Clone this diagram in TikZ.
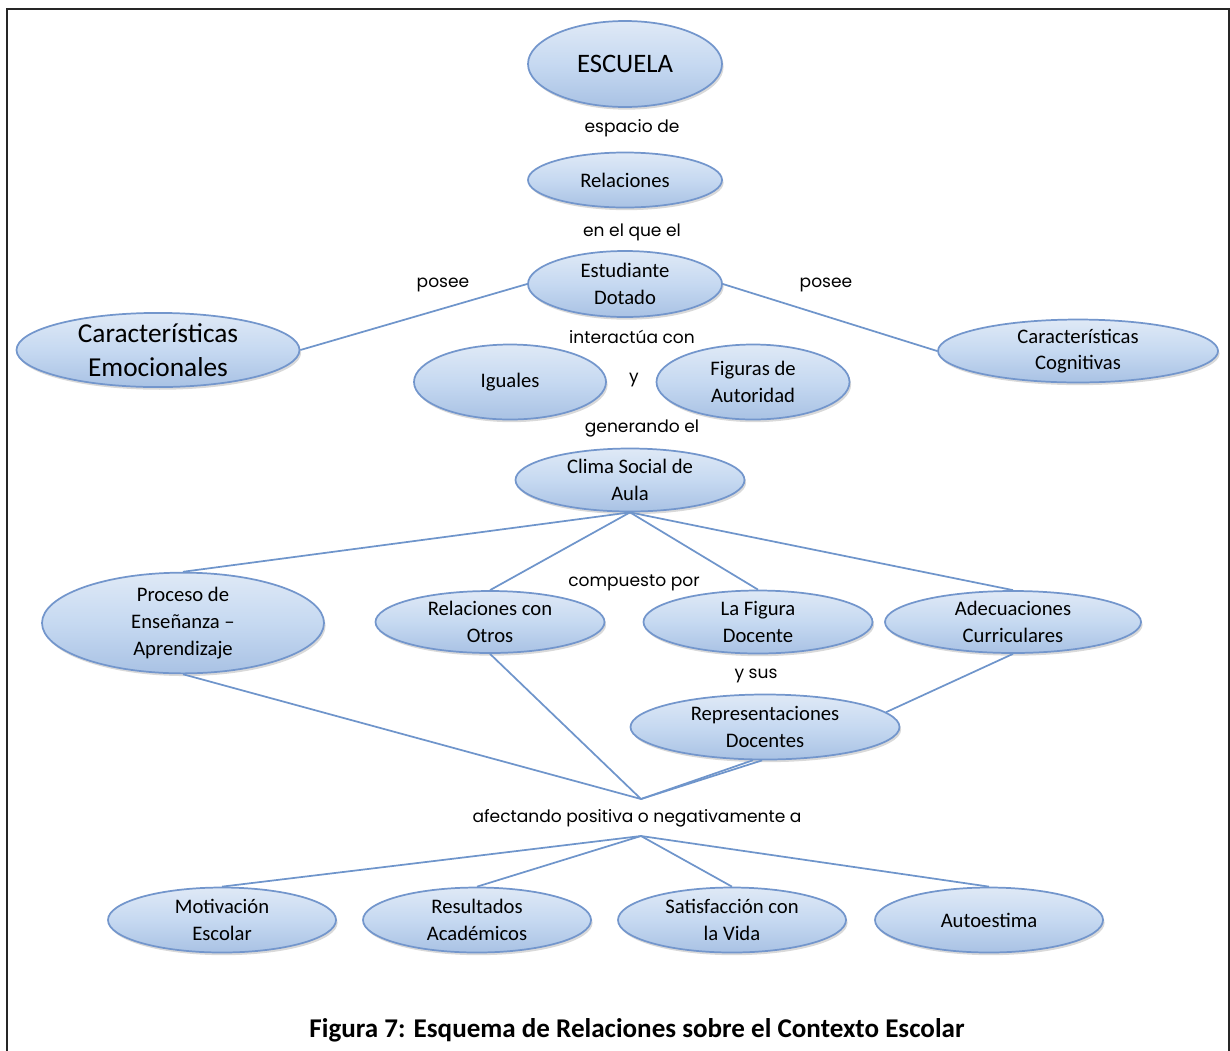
\documentclass[tikz,border=0pt]{standalone}
\usepackage{fontspec}
\setmainfont{Carlito}
\newfontfamily\labelfont{Poppins}
\usetikzlibrary{shapes.geometric,shadows}
\definecolor{bubtop}{HTML}{DFE9F6}
\definecolor{bubmid}{HTML}{C6D9F1}
\definecolor{bubbot}{HTML}{A9C2E4}
\definecolor{bubline}{HTML}{7396CC}
\definecolor{linkblue}{HTML}{6F95CB}
\begin{document}
\begin{tikzpicture}[x=0.75pt,y=-0.75pt,
  bub/.style 2 args={ellipse, minimum width=#1*0.75pt, minimum height=#2*0.75pt,
    inner sep=0pt, top color=bubtop, bottom color=bubbot, middle color=bubmid,
    draw=bubline, line width=1.3pt,
    drop shadow={shadow xshift=1.2pt, shadow yshift=-2pt, opacity=0.3},
    align=center, font=\fontsize{15.5}{20}\selectfont},
  lbl/.style={font=\labelfont\fontsize{12.8}{15}\selectfont, inner sep=1pt},
  link/.style={draw=linkblue, line width=1.3pt}]
\useasboundingbox (0,0) rectangle (1230,1050);
% page frame, open at the bottom
\draw[line width=2.2pt, black!85] (7,1056) -- (7,9) -- (1229,9) -- (1229,1056);

% concept ellipses
\node[bub={194}{86}, font=\fontsize{20}{24}\selectfont] (esc) at (625,64) {ESCUELA};
\node[bub={194}{55}] (rel) at (625,180) {Relaciones};
\node[bub={194}{66}] (est) at (625,284) {Estudiante\\Dotado};
\node[bub={283}{64}, font=\fontsize{20.5}{25}\selectfont] (emo) at (158,350) {Características\\Emocionales};
\node[bub={280}{62}] (cog) at (1078,351) {Características\\Cognitivas};
\node[bub={192}{75}] (igu) at (510,382) {Iguales};
\node[bub={193}{75}] (aut) at (753,382) {Figuras de\\Autoridad};
\node[bub={229}{63}] (cli) at (630,480) {Clima Social de\\Aula};
\node[bub={282}{85}] (pro) at (183,623) {Proceso de\\Enseñanza –\\Aprendizaje};
\node[bub={229}{62}] (rco) at (490,622) {Relaciones con\\Otros};
\node[bub={229}{63}] (fig) at (758,622) {La Figura\\Docente};
\node[bub={256}{62}] (adc) at (1013,622) {Adecuaciones\\Curriculares};
\node[bub={269}{65}] (rep) at (765,727) {Representaciones\\Docentes};
\node[bub={228}{65}] (mot) at (222,920) {Motivación\\Escolar};
\node[bub={228}{65}] (res) at (477,920) {Resultados\\Académicos};
\node[bub={228}{65}] (sat) at (732,920) {Satisfacción con\\la Vida};
\node[bub={228}{65}] (aue) at (989,920) {Autoestima};

% linking phrases
\node[lbl] (l1) at (632,128) {espacio de};
\node[lbl] (l2) at (632,232) {en el que el};
\node[lbl] (l3) at (443,285) {posee};
\node[lbl] (l4) at (826,285) {posee};
\node[lbl] (l5) at (632,337) {interactúa con};
\node[lbl] (l6) at (634,380) {y};
\node[lbl] (l7) at (642,428) {generando el};
\node[lbl] (l8) at (634,583) {compuesto por};
\node[lbl] (l9) at (756,676) {y sus};
\node[lbl] (l10) at (637,818) {afectando positiva o negativamente a};

% junction points of the lower connectors
\coordinate (hubA) at (641,799);
\coordinate (hubB) at (641,836);

% connectors
\draw[link] (est.west) -- (emo.east);
\draw[link] (est.east) -- (cog.west);
\draw[link] (cli.south) -- (pro.north);
\draw[link] (cli.south) -- (rco.north);
\draw[link] (cli.south) -- (fig.north);
\draw[link] (cli.south) -- (adc.north);
\draw[link] (adc.south) -- (rep.7);
\draw[link] (pro.south) -- (hubA);
\draw[link] (rco.south) -- (hubA);
\draw[link] (rep.-110) -- (hubA);
\draw[link] (rep.-95) -- (hubA);
\draw[link] (hubB) -- (mot.north);
\draw[link] (hubB) -- (res.north);
\draw[link] (hubB) -- (sat.north);
\draw[link] (hubB) -- (aue.north);

% caption
\node[font=\bfseries\fontsize{20.3}{24}\selectfont] (cap) at (637,1030)
  {Figura 7: Esquema de Relaciones sobre el Contexto Escolar};
\end{tikzpicture}
\end{document}
